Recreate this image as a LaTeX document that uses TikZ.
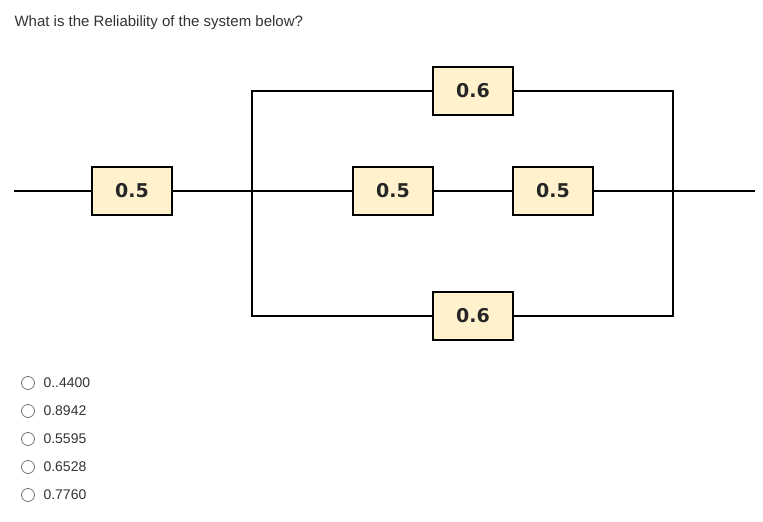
\documentclass[tikz,border=0pt]{standalone}
\usepackage{fontspec}
\setmainfont{Liberation Sans}
\newfontfamily\boxfont{DejaVu Sans}
\definecolor{boxfill}{HTML}{FFF2CC}
\definecolor{txt}{HTML}{333333}
\begin{document}
\begin{tikzpicture}[x=1pt,y=-1pt,
  blk/.style={draw=black,line width=1.5pt,fill=boxfill,minimum width=80pt,minimum height=48pt,inner sep=0pt,font=\boxfont\bfseries\fontsize{19}{19}\selectfont,text=black!85},
  wire/.style={line width=1.5pt},
  opt/.style={anchor=west,font=\fontsize{14}{14}\selectfont,text=txt},
  radio/.style={circle,draw=black!55,line width=0.8pt,minimum size=13pt,inner sep=0pt}]
\useasboundingbox (0,0) rectangle (763,522);
\node[anchor=west,font=\fontsize{15}{15}\selectfont,text=txt] (q) at (11,23) {What is the Reliability of the system below?};
\coordinate (in) at (14,191);
\coordinate (out) at (755,191);
\coordinate (jl) at (252,191);
\coordinate (jr) at (673,191);
\coordinate (tl) at (252,91);
\coordinate (tr) at (673,91);
\coordinate (bl) at (252,316);
\coordinate (br) at (673,316);
\node[blk] (a) at (132,191) {0.5};
\node[blk] (m1) at (393,191) {0.5};
\node[blk] (m2) at (553,191) {0.5};
\node[blk] (t) at (473,91) {0.6};
\node[blk] (b) at (473,316) {0.6};
\draw[wire] (in) -- (a.west);
\draw[wire] (a.east) -- (jl) -- (m1.west);
\draw[wire] (m1.east) -- (m2.west);
\draw[wire] (m2.east) -- (jr) -- (out);
\draw[wire] (t.west) -- (tl) -- (bl) -- (b.west);
\draw[wire] (t.east) -- (tr) -- (br) -- (b.east);
\foreach \y/\t [count=\i] in {383/0..4400,411/0.8942,439/0.5595,467/0.6528,495/0.7760}{
  \node[radio] (r\i) at (28,\y) {};
  \node[opt] (o\i) at (40,\y) {\t};
}
\end{tikzpicture}
\end{document}
